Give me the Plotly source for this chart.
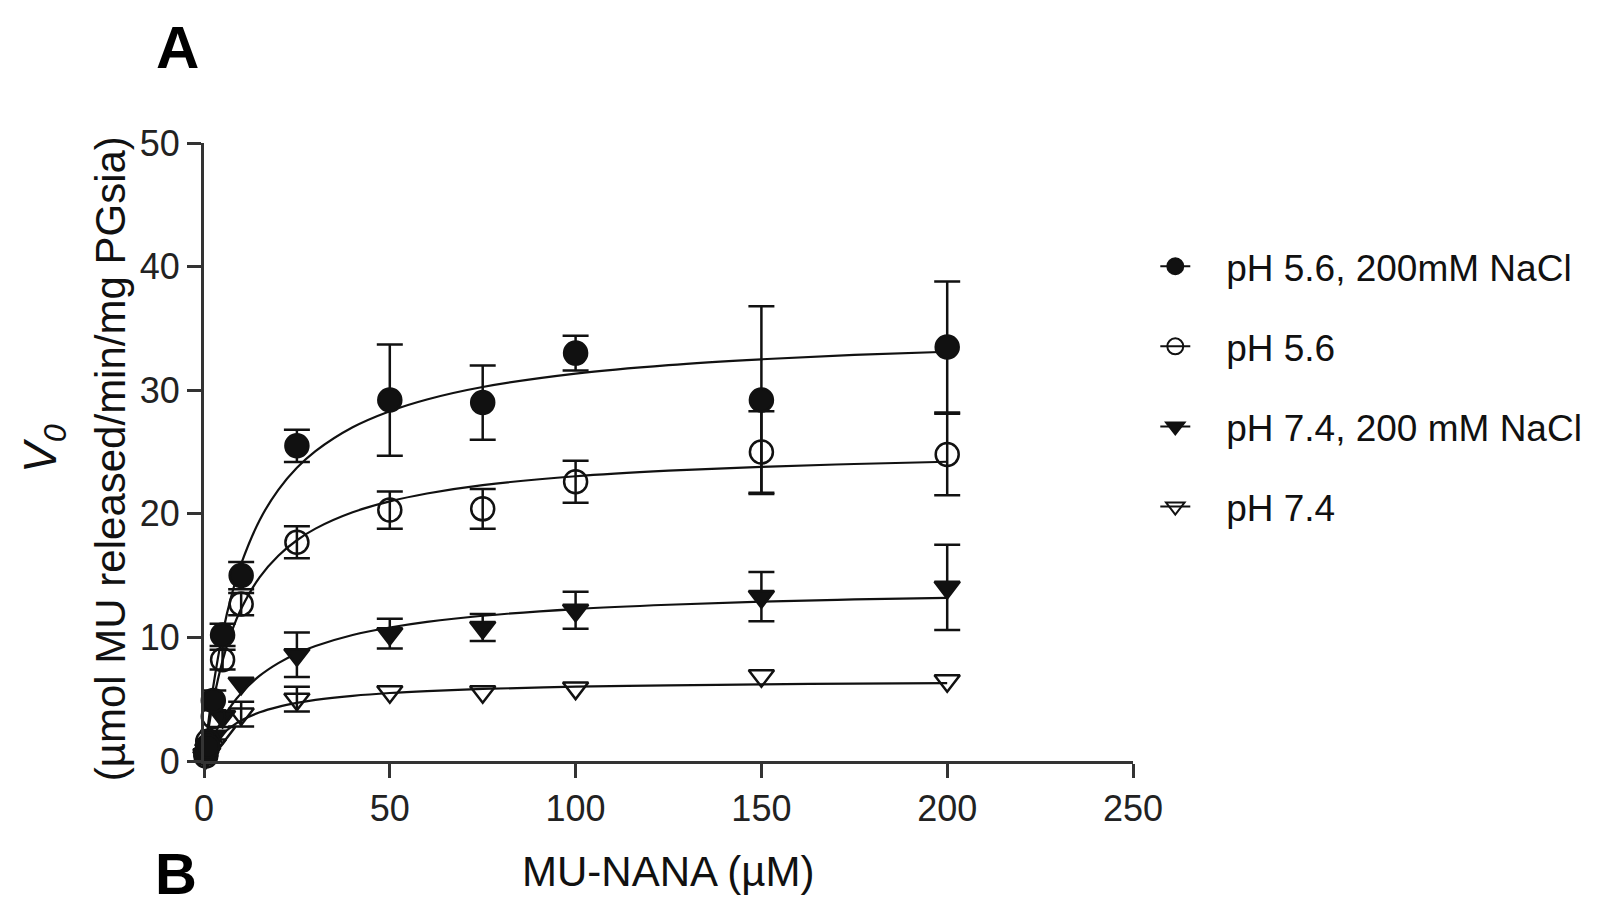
import numpy as np
import plotly.graph_objects as go

# ---------------- data ----------------
conc = [0.5, 1, 2.5, 5, 10, 25, 50, 75, 100, 150, 200]  # MU-NANA (uM)

v_56_nacl = [0.6, 1.2, 4.9, 10.2, 15.0, 25.5, 29.2, 29.0, 33.0, 29.2, 33.5]
e_56_nacl = [None, None, 0.8, 0.9, 1.1, 1.3, 4.5, 3.0, 1.4, 7.6, 5.3]

v_56 = [0.4, 1.6, 3.6, 8.2, 12.7, 17.7, 20.3, 20.4, 22.6, 25.0, 24.8]
e_56 = [None, None, None, 0.8, 0.9, 1.3, 1.5, 1.6, 1.7, 3.3, 3.3]

v_74_nacl = [0.5, 0.9, 2.0, 3.6, 6.3, 8.6, 10.3, 10.8, 12.2, 13.3, 14.05]
e_74_nacl = [None, None, None, None, None, 1.8, 1.2, 1.1, 1.5, 2.0, 3.45]

v_74 = [0.3, 0.6, 1.3, 2.3, 3.8, 5.0, 5.6, 5.6, 5.9, 6.9, 6.5]
e_74 = [None, None, None, None, 1.0, 1.0, None, None, None, None, None]

# fitted curves
fit_x = [0, 1, 2.5, 5, 7.5, 10, 15, 20, 25, 30, 40, 50, 60, 75, 100, 125, 150, 175, 200]
fit_56_nacl = [0, 2.70, 6.05, 10.32, 13.5, 15.95, 19.5, 21.94, 23.72, 25.07, 27.0, 28.3,
               29.25, 30.26, 31.34, 32.03, 32.5, 32.85, 33.11]
fit_56 = [0, 2.18, 4.83, 8.12, 10.51, 12.32, 14.88, 16.61, 17.86, 18.80, 20.12, 21.0,
          21.64, 22.32, 23.04, 23.49, 23.80, 24.03, 24.21]
fit_74_nacl = [0, 0.84, 1.93, 3.40, 4.55, 5.48, 6.90, 7.92, 8.70, 9.30, 10.19, 10.8,
               11.26, 11.75, 12.29, 12.64, 12.89, 13.07, 13.20]
fit_74 = [0, 0.59, 1.30, 2.18, 2.81, 3.28, 3.94, 4.38, 4.70, 4.94, 5.27, 5.50,
          5.66, 5.83, 6.01, 6.12, 6.20, 6.26, 6.30]

labels = ["pH 5.6, 200mM NaCl", "pH 5.6", "pH 7.4, 200 mM NaCl", "pH 7.4"]
symbols = ["circle", "circle-open", "triangle-down", "triangle-down-open"]
x_ticks = [0, 50, 100, 150, 200, 250]
y_ticks = [0, 10, 20, 30, 40, 50]

FONT = "Liberation Sans, Arial, Helvetica, sans-serif"
INK = "#111111"

series = [
    (v_56_nacl, e_56_nacl, fit_56_nacl),
    (v_56, e_56, fit_56),
    (v_74_nacl, e_74_nacl, fit_74_nacl),
    (v_74, e_74, fit_74),
]

fig = go.Figure()

# fitted curves
for (_, _, fit) in series:
    fig.add_trace(go.Scatter(
        x=fit_x, y=fit, mode="lines", line=dict(color=INK, width=2.2, shape="spline"),
        showlegend=False, hoverinfo="skip"))

# data points (draw lower series first so upper markers cover shared caps)
order = [3, 2, 1, 0]
for i in order:
    vals, errs, _ = series[i]
    sym = symbols[i]
    size = 23 if "circle" in sym else 22
    fig.add_trace(go.Scatter(
        x=conc, y=vals, mode="markers",
        marker=dict(symbol=sym, size=size, color=INK, line=dict(color=INK, width=2.5)),
        error_y=dict(type="data", array=np.array(errs, dtype=float), visible=True,
                     color=INK, thickness=2.5, width=13),
        cliponaxis=False, showlegend=False))

# legend entries
for i in range(4):
    sym = symbols[i]
    fig.add_trace(go.Scatter(
        x=[None], y=[None], mode="lines+markers", name="\u00a0\u00a0\u00a0" + labels[i],
        legendgroup=f"g{i}",
        line=dict(color=INK, width=2),
        marker=dict(symbol=sym, size=16, color=INK, line=dict(color=INK, width=2))))

axis_common = dict(
    showline=True, linewidth=3, linecolor="#333333",
    ticks="outside", ticklen=14, tickwidth=3, tickcolor="#333333",
    showgrid=False, zeroline=False,
    tickfont=dict(family=FONT, size=36, color="#222222"),
)

fig.update_layout(
    width=1600, height=911, autosize=False,
    margin=dict(l=204, r=467, t=143, b=150),
    paper_bgcolor="white", plot_bgcolor="white",
    font=dict(family=FONT, color=INK),
    xaxis=dict(range=[0, 250], tickvals=x_ticks, **axis_common),
    yaxis=dict(range=[0, 50], tickvals=y_ticks, **axis_common),
    legend=dict(x=1.024, y=0.85, xanchor="left", yanchor="top",
                font=dict(family=FONT, size=37, color=INK),
                tracegroupgap=29, itemsizing="trace", bgcolor="rgba(0,0,0,0)"),
    annotations=[
        dict(text="MU-NANA (µM)", x=0.5, y=-0.178, xref="paper", yref="paper",
             xanchor="center", yanchor="middle", showarrow=False,
             font=dict(family=FONT, size=42, color=INK)),
        dict(text="(µmol MU released/min/mg PGsia)", x=-0.1012, y=0.49,
             xref="paper", yref="paper", xanchor="center", yanchor="middle",
             textangle=-90, showarrow=False,
             font=dict(family=FONT, size=42, color=INK)),
        dict(text="<i>V</i><sub><i>0</i></sub>", x=-0.1722, y=0.505,
             xref="paper", yref="paper", xanchor="center", yanchor="middle",
             textangle=-90, showarrow=False,
             font=dict(family=FONT, size=46, color=INK)),
        dict(text="<b>A</b>", x=-0.028, y=1.155, xref="paper", yref="paper",
             xanchor="center", yanchor="middle", showarrow=False,
             font=dict(family=FONT, size=60, color="#000000")),
        dict(text="<b>B</b>", x=-0.030, y=-0.238, xref="paper", yref="paper",
             xanchor="center", yanchor="bottom", showarrow=False,
             font=dict(family=FONT, size=58, color="#000000")),
    ],
)

fig.write_html("out.html")
